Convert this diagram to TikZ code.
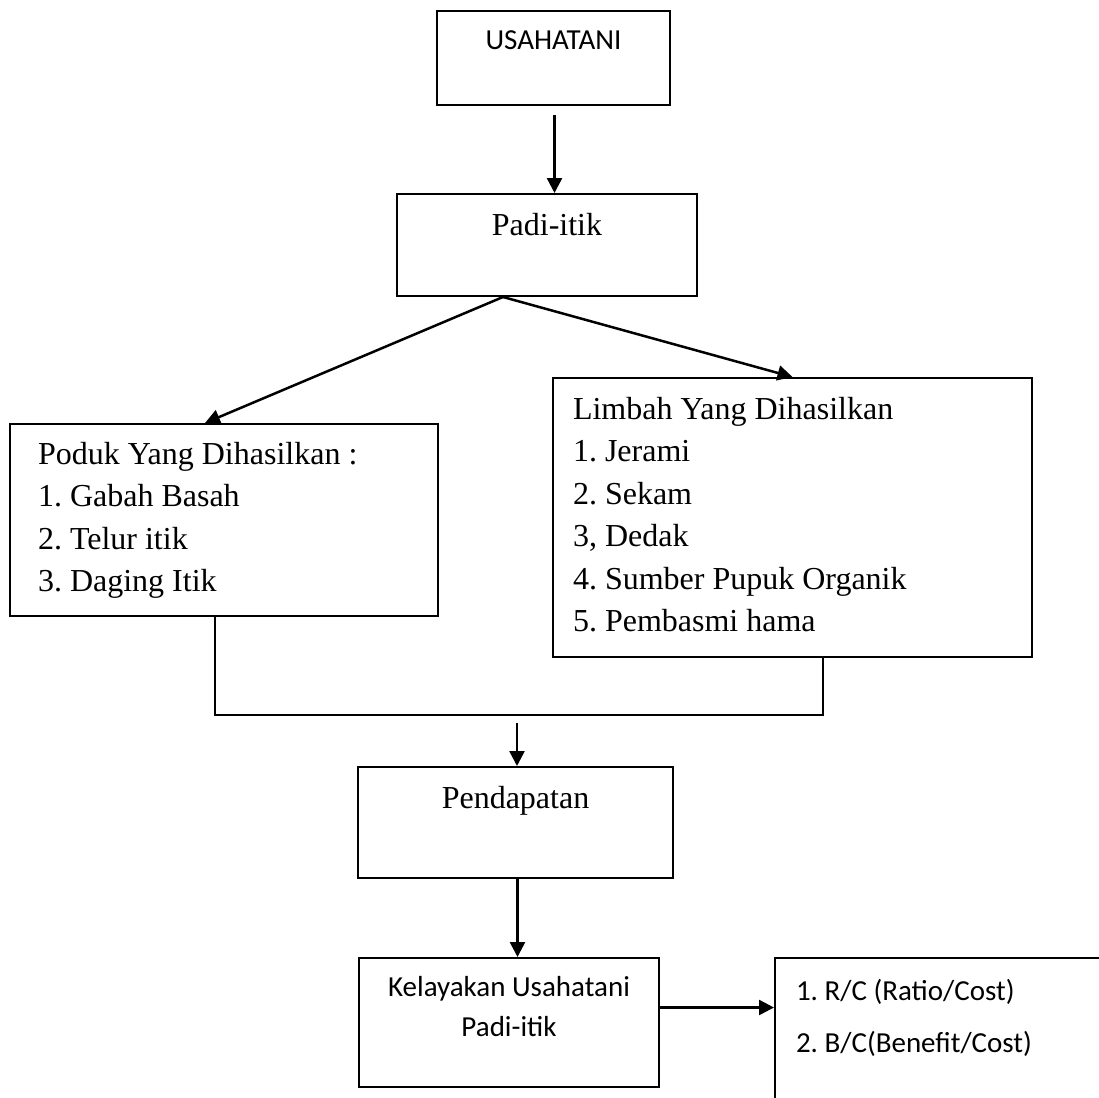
\documentclass[tikz,border=0pt]{standalone}
\usepackage{fontspec}
\setmainfont{Liberation Serif}
\newfontfamily\calibri{Carlito}
\usetikzlibrary{arrows.meta}

\begin{document}
\begin{tikzpicture}[x=1pt, y=-1pt,
    box/.style={draw, line width=2pt, anchor=north west, inner sep=0pt},
    serif/.style={font=\fontsize{32}{42.5}\selectfont\frenchspacing},
    sans/.style={font=\calibri\fontsize{29}{40}\selectfont\frenchspacing},
    link/.style={line width=2pt},
    arr/.style={-{Triangle[length=15pt, width=15pt]}, line width=2.5pt}]
      \useasboundingbox (0,0) rectangle (1099,1097);
      \clip (0,0) rectangle (1099,1097);
      \node[box, sans, minimum width=233pt, text height=39pt, text depth=55pt] (usaha) at (436,10) {USAHATANI};
      \node[box, serif, minimum width=300pt, text height=41pt, text depth=61pt] (padi) at (396,193) {Padi-itik};
      \node[box, serif, text width=372pt, inner xsep=28pt, align=flush left, text height=40pt, text depth=152pt] (poduk) at (9,423)
          {Poduk Yang Dihasilkan :\\1. Gabah Basah\\2. Telur itik\\3. Daging Itik};
      \node[box, serif, text width=439pt, inner xsep=20pt, align=flush left, text height=41pt, text depth=238pt] (limbah) at (552,377)
          {Limbah Yang Dihasilkan\\1. Jerami\\2. Sekam\\3, Dedak\\4. Sumber Pupuk Organik\\5. Pembasmi hama};
      \node[box, serif, minimum width=315pt, text height=41pt, text depth=70pt] (pend) at (357,766) {Pendapatan};
      \node[box, sans, text width=300pt, align=flush center, text height=38pt, text depth=91pt] (kel) at (358,957)
          {Kelayakan Usahatani\\Padi-itik};
      \node[box, sans, font=\calibri\fontsize{29}{52}\selectfont\frenchspacing, text width=310pt, inner xsep=21pt,
          align=flush left, text height=42pt, text depth=121pt] (rc) at (774,957)
          {1. R/C (Ratio/Cost)\\2. B/C(Benefit/Cost)};
      \coordinate (join) at (517,723);
      \draw[arr, shorten <=9pt] ([xshift=1pt]usaha.south) -- ([xshift=1pt]usaha.south |- padi.north);
      \draw[arr] ([xshift=-44pt]padi.south) -- ([xshift=-19pt]poduk.north);
      \draw[arr] ([xshift=-44pt]padi.south) -- (limbah.north);
      % both boxes join into one line
      \draw[link] ([xshift=-9pt]poduk.south) -- ++(0,98) -| ([xshift=30pt]limbah.south);
      \draw[arr] (join) -- (join |- pend.north);
      \draw[arr] ([xshift=2pt]pend.south) -- ([xshift=2pt]pend.south |- kel.north);
      \draw[arr] ([yshift=15pt]kel.east) -- ([yshift=15pt]kel.east -| rc.west);
    \end{tikzpicture}
\end{document}
